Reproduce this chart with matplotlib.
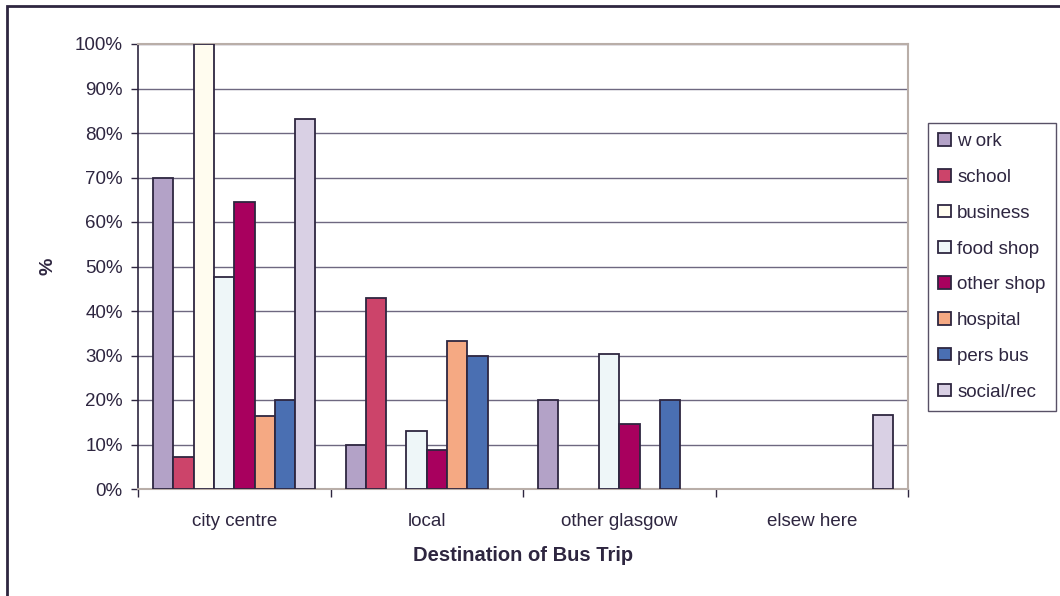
import matplotlib
matplotlib.use("Agg")
import matplotlib.pyplot as plt
from matplotlib.patches import Rectangle
from matplotlib.ticker import FixedLocator, NullFormatter
import numpy as np

destinations = ["city centre", "local", "other glasgow", "elsew here"]
purposes = ["w ork", "school", "business", "food shop", "other shop",
            "hospital", "pers bus", "social/rec"]

work = [70, 10, 20, 0]
school = [7.1, 43, 0, 0]
business = [100, 0, 0, 0]
food_shop = [47.6, 13, 30.4, 0]
other_shop = [64.5, 8.8, 14.7, 0]
hospital = [16.4, 33.3, 0, 0]
pers_bus = [20, 30, 20, 0]
social_rec = [83.1, 0, 0, 16.6]

series = [work, school, business, food_shop, other_shop, hospital, pers_bus, social_rec]
colors = ["#B3A2C7", "#CC446A", "#FFFCEF", "#EEF6F8", "#A8005E",
          "#F5A983", "#4A6FB2", "#D9D0E4"]

ytick_values = list(range(0, 101, 10))

plt.rcParams["font.family"] = ["Liberation Sans", "DejaVu Sans"]
ink = "#2E2640"
fs = 13.5

fig = plt.figure(figsize=(10.6, 5.96), dpi=100)
fig.patch.set_facecolor("white")

# outer chart frame (only top and left edges fall inside the canvas)
fig.add_artist(Rectangle((7 / 1060, -0.1), 1.2, 1 - 6 / 596 + 0.1,
                         transform=fig.transFigure, fill=False,
                         edgecolor=ink, linewidth=2.0))

ax = fig.add_axes([138 / 1060, 1 - 489 / 596, (908 - 138) / 1060, (489 - 44) / 596])

n = len(series)
bw = 1.0 / (n + 1.5)
x = np.arange(len(destinations))
handles = []
for i, (vals, c) in enumerate(zip(series, colors)):
    offs = (i - (n - 1) / 2) * bw
    b = ax.bar(x + offs, vals, width=bw, color=c, edgecolor=ink,
               linewidth=1.3, zorder=3, label=purposes[i])
    for patch, v in zip(b.patches, vals):
        if v == 0:
            patch.set_visible(False)
    handles.append(b)

ax.set_xlim(-0.5, len(destinations) - 0.5)
ax.set_ylim(0, 100)
ax.set_yticks(ytick_values)
ax.set_yticklabels([f"{v}%" for v in ytick_values], fontsize=fs, color=ink)
ax.yaxis.grid(True, color="#6E6880", linewidth=1.0, zorder=0)
ax.set_axisbelow(True)

ax.set_xticks(x)
ax.set_xticklabels(destinations, fontsize=fs, color=ink)
ax.tick_params(axis="x", length=0, pad=17)
ax.xaxis.set_minor_locator(FixedLocator(np.arange(-0.5, len(destinations), 1.0)))
ax.xaxis.set_minor_formatter(NullFormatter())
ax.tick_params(axis="x", which="minor", length=6, width=1.0, color=ink, direction="out")
ax.tick_params(axis="y", length=5, width=1.0, color=ink, direction="out", pad=6)

for side in ["top", "right"]:
    ax.spines[side].set_color("#B9AEA8")
    ax.spines[side].set_linewidth(1.5)
ax.spines["left"].set_color(ink)
ax.spines["bottom"].set_color("#B9AEA8")
ax.spines["left"].set_linewidth(1.2)
ax.spines["bottom"].set_linewidth(1.5)

ax.set_xlabel("Destination of Bus Trip", fontsize=14.5, fontweight="bold",
              color=ink, labelpad=12)
ax.set_ylabel("%", fontsize=14, fontweight="bold", color=ink, labelpad=13)

leg = fig.legend(handles=handles, labels=purposes,
                 loc="upper left", bbox_to_anchor=(928 / 1060, 1 - 123 / 596),
                 frameon=True, fancybox=False, fontsize=fs,
                 handlelength=0.65, handleheight=0.65, handletextpad=0.35,
                 labelspacing=1.0, borderpad=0.55, borderaxespad=0)
leg.get_frame().set_edgecolor(ink)
leg.get_frame().set_linewidth(1.0)
for t in leg.get_texts():
    t.set_color(ink)

fig.savefig("out.png", dpi=100, facecolor="white")
